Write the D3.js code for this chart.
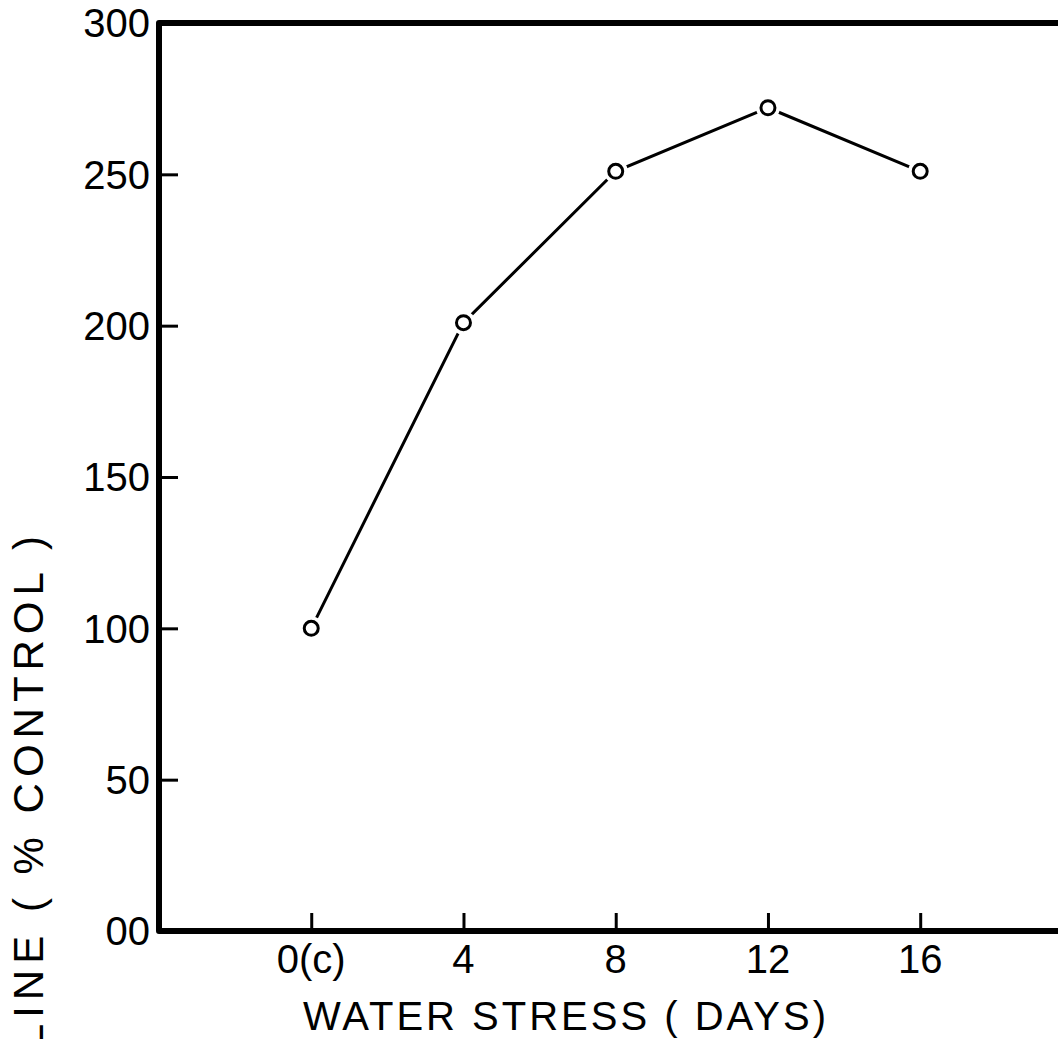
<!DOCTYPE html>
<html>
<head>
<meta charset="utf-8">
<script src="https://cdn.jsdelivr.net/npm/d3@7"></script>
<style>
  body { margin: 0; background: #fff; }
  svg { display: block; }
  text { font-family: "Liberation Sans", Arial, sans-serif; fill: #000; }
</style>
</head>
<body>
<svg id="chart"></svg>
<script>
const w = 1058, h = 1039;

// data
const days = [0, 4, 8, 12, 16];
const proline = [100, 201, 251, 272, 251];
const xTickLabels = ["0(c)", "4", "8", "12", "16"];
const yTicks = [0, 50, 100, 150, 200, 250, 300];
const yTickLabels = ["00", "50", "100", "150", "200", "250", "300"];

const margins = { top: 23, left: 159, bottom: 931 };

const svg = d3.select('#chart')
  .attr('width', w)
  .attr('height', h);

// x runs from -4 to 20 days, frame cut off on the right
const xScale = d3.scaleLinear()
  .domain([-4, 20])
  .range([margins.left, margins.left + 24 * 38.06]);

const yScale = d3.scaleLinear()
  .domain([0, 300])
  .range([margins.bottom, margins.top]);

// Y AXIS (ticks inward)
const yAxis = svg.append('g')
  .attr('transform', `translate(${margins.left}, 0)`)
  .call(d3.axisRight(yScale)
    .tickValues(yTicks.filter(d => d > 0 && d < 300))
    .tickSize(19)
    .tickFormat(''));
yAxis.select('.domain').remove();
yAxis.selectAll('line').attr('stroke', '#000').attr('stroke-width', 3);

svg.append('g')
  .selectAll('text')
  .data(yTicks)
  .join('text')
  .attr('x', 150)
  .attr('y', d => yScale(d))
  .attr('dy', '0.36em')
  .attr('text-anchor', 'end')
  .style('font-size', '40px')
  .text((d, i) => yTickLabels[i]);

// X AXIS (ticks upward)
const xAxis = svg.append('g')
  .attr('transform', `translate(0, ${margins.bottom})`)
  .call(d3.axisTop(xScale)
    .tickValues(days)
    .tickSize(18)
    .tickFormat(''));
xAxis.select('.domain').remove();
xAxis.selectAll('line').attr('stroke', '#000').attr('stroke-width', 3);

svg.append('g')
  .selectAll('text')
  .data(days)
  .join('text')
  .attr('x', d => xScale(d))
  .attr('y', 973)
  .attr('text-anchor', 'middle')
  .style('font-size', '40px')
  .text((d, i) => xTickLabels[i]);

// frame: top, left, bottom
svg.append('path')
  .attr('d', `M${w + 10},${yScale(300)} L${margins.left},${yScale(300)} L${margins.left},${yScale(0)} L${w + 10},${yScale(0)}`)
  .attr('fill', 'none')
  .attr('stroke', '#000')
  .attr('stroke-width', 6)
  .attr('stroke-linejoin', 'round');

// AXIS LABELS
svg.append('text')
  .attr('x', 566)
  .attr('y', 1030)
  .attr('text-anchor', 'middle')
  .style('font-size', '40px')
  .style('letter-spacing', '3px')
  .text('WATER STRESS ( DAYS)');

// y label runs off the bottom edge, as in the scan
svg.append('text')
  .attr('transform', `translate(${43}, ${530}) rotate(-90)`)
  .attr('text-anchor', 'end')
  .style('font-size', '42px')
  .style('letter-spacing', '6px')
  .text('PROLINE ( % CONTROL )');

// data line
const pts = days.map((d, i) => ({ day: d, value: proline[i] }));

svg.append('path')
  .datum(pts)
  .attr('d', d3.line().x(d => xScale(d.day)).y(d => yScale(d.value)))
  .attr('fill', 'none')
  .attr('stroke', '#000')
  .attr('stroke-width', 3);

// white gap round the markers
svg.selectAll('circle.gap')
  .data(pts)
  .join('circle')
  .attr('class', 'gap')
  .attr('cx', d => xScale(d.day))
  .attr('cy', d => yScale(d.value))
  .attr('r', 12)
  .style('fill', '#fff');

svg.selectAll('circle.pt')
  .data(pts)
  .join('circle')
  .attr('class', 'pt')
  .attr('cx', d => xScale(d.day))
  .attr('cy', d => yScale(d.value))
  .attr('r', 7)
  .style('fill', '#fff')
  .style('stroke', '#000')
  .style('stroke-width', 3);
</script>
</body>
</html>
